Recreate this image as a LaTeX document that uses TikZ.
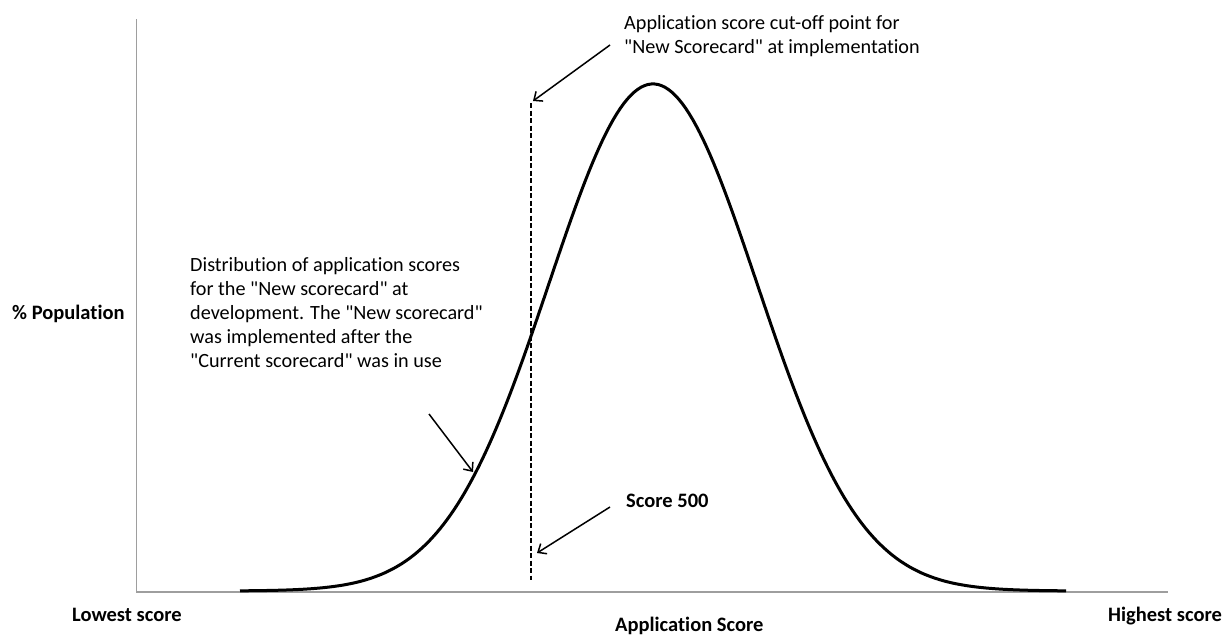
\documentclass[tikz,border=0pt]{standalone}
\usepackage{fontspec}
\setmainfont{Carlito}[Ligatures=NoCommon]
\usetikzlibrary{arrows.meta}
\newcommand\qt{\textquotedbl}
\begin{document}
\begin{tikzpicture}[x=1pt,y=-1pt,
  axisline/.style={draw=black!38,line width=1.4pt},
  curveline/.style={draw=black,line width=3pt},
  cutline/.style={draw=black,line width=1.8pt,dash pattern=on 5pt off 2.5pt},
  pointer/.style={draw=black,line width=1.5pt,-{Straight Barb[length=7pt,width=12pt,line width=1.5pt]}},
  note/.style={inner sep=0pt,anchor=base west,font=\fontsize{20.2}{24}\selectfont},
  boldlabel/.style={inner sep=0pt,anchor=base west,font=\fontsize{20.5}{24}\selectfont\bfseries}]
\useasboundingbox (0,0) rectangle (1231,635);
\fill[white] (0,0) rectangle (1231,635);

% axes
\coordinate (origin) at (136.5,592);
\coordinate (ytop) at (136.5,19);
\coordinate (xend) at (1168,592);
\draw[axisline] (ytop) -- (origin) -- (xend);

% score distribution
\draw[curveline,line join=round] plot[domain=240:1066,samples=240]
  (\x,{591-507*exp(-((\x-653)/104)^2/2)});

% cut-off at score 500
\coordinate (cuttop) at (531,103);
\coordinate (cutbot) at (531,580);
\draw[cutline] (cuttop) -- (cutbot);

% labels
\node[note] (cutnote) at (624,29)
  {\parbox[t]{340pt}{\baselineskip=24pt Application score cut-off point for\\\qt New Scorecard\qt{} at implementation}};
\node[note] (distnote) at (190,271)
  {\parbox[t]{340pt}{\baselineskip=24pt Distribution of application scores\\for the \qt New scorecard\qt{} at\\development. The \qt New scorecard\qt\\was implemented after the\\\qt Current scorecard\qt{} was in use}};
\node[boldlabel] (score) at (626,507) {Score 500};
\node[boldlabel] (ylab) at (12,319) {\% Population};
\node[boldlabel] (lowest) at (72,621) {Lowest score};
\node[boldlabel] (highest) at (1108,621) {Highest score};
\node[boldlabel] (xlab) at (615,631) {Application Score};

% pointers
\coordinate (p1s) at (610,45);
\coordinate (p1e) at (533,101);
\coordinate (p2s) at (429,414);
\coordinate (p2e) at (473,472);
\coordinate (p3s) at (610,507);
\coordinate (p3e) at (537,553);
\draw[pointer] (p1s) -- (p1e);
\draw[pointer] (p2s) -- (p2e);
\draw[pointer] (p3s) -- (p3e);
\end{tikzpicture}
\end{document}
